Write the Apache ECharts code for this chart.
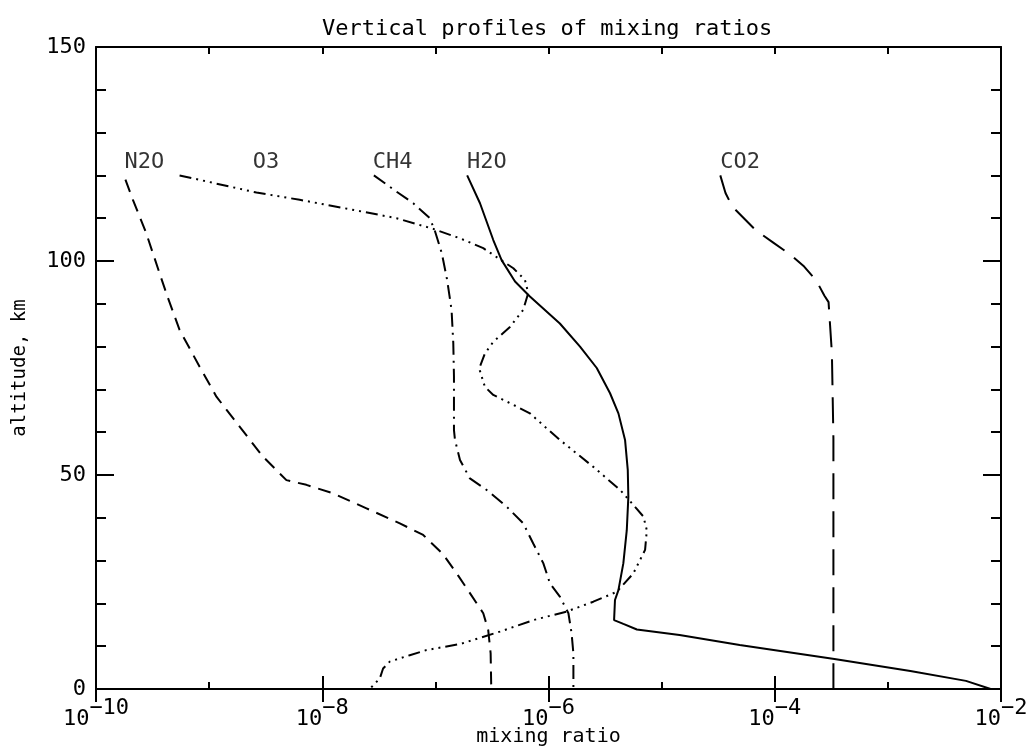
<!DOCTYPE html>
<html><head><meta charset="utf-8">
<script src="https://cdn.jsdelivr.net/npm/echarts@6/dist/echarts.min.js"></script>
<style>html,body{margin:0;padding:0;background:#fff}#c{width:1033px;height:754px}</style>
</head><body><div id="c"></div>
<script>
// ---- text ----
const titleText = 'Vertical profiles of mixing ratios';
const xName = 'mixing ratio';
const yName = 'altitude, km';

// ---- ticks ----
const xTickDecades = [1e-10, 1e-9, 1e-8, 1e-7, 1e-6, 1e-5, 1e-4, 1e-3, 1e-2];
const xLabelDecades = [1e-10, 1e-8, 1e-6, 1e-4, 1e-2];

// ---- series labels (name, mixing ratio at left edge, altitude) ----
const labelNames = ['N2O', 'O3', 'CH4', 'H2O', 'CO2'];
const labelMix = [1.79e-10, 2.43e-9, 2.80e-8, 1.90e-7, 3.3e-5];
const labelAlt = 123;

// ---- profiles ----
const n2oAlt = [119, 114.3, 106.5, 97.1, 91.4, 83.9, 75.3, 68.3, 61.3, 54.3, 48.8, 47.7, 45.7, 42.2, 38.7, 36.0, 31.5, 26.6, 22.4, 17.7, 13.8, 8.3, 0];
const n2oMix = [1.82e-10, 2.12e-10, 2.78e-10, 3.65e-10, 4.32e-10, 5.48e-10, 8.24e-10, 1.16e-9, 1.86e-9, 2.99e-9, 4.82e-9, 7.24e-9, 1.25e-8, 2.46e-8, 4.85e-8, 7.80e-8, 1.17e-7, 1.58e-7, 2.02e-7, 2.65e-7, 2.93e-7, 3.08e-7, 3.12e-7];

const o3Alt = [120, 116.0, 114.3, 112.1, 110.0, 107.5, 105.3, 103.0, 100.4, 98.3, 95.6, 92.5, 88.6, 84.6, 81.1, 78.4, 74.9, 70.6, 68.7, 66.4, 64.4, 60.9, 58.2, 51.9, 46.5, 40.3, 37.1, 32.5, 27.0, 22.7, 20.4, 18.1, 16.1, 13.4, 10.5, 9.1, 7.9, 6.4, 4.8, 2.5, 0];
const o3Mix = [5.48e-10, 2.62e-9, 6.32e-9, 1.75e-8, 4.54e-8, 9.57e-8, 1.65e-7, 2.65e-7, 3.72e-7, 4.89e-7, 6.19e-7, 6.62e-7, 5.98e-7, 4.56e-7, 3.25e-7, 2.74e-7, 2.44e-7, 2.74e-7, 3.25e-7, 4.89e-7, 6.85e-7, 9.64e-7, 1.26e-6, 2.49e-6, 4.30e-6, 6.90e-6, 7.40e-6, 7.14e-6, 5.62e-6, 4.01e-6, 2.49e-6, 1.45e-6, 7.35e-7, 3.72e-7, 1.65e-7, 8.36e-8, 5.94e-8, 3.95e-8, 3.45e-8, 3.23e-8, 2.63e-8];

const ch4Alt = [120, 116.2, 113.5, 110.0, 107.0, 101.8, 95.6, 88.6, 80.8, 73.0, 60.5, 58.2, 53.5, 49.2, 46.5, 42.6, 38.7, 34.0, 29.4, 24.7, 21.6, 17.7, 13.0, 8.3, 0];
const ch4Mix = [2.86e-8, 4.54e-8, 6.37e-8, 8.93e-8, 9.91e-8, 1.14e-7, 1.27e-7, 1.39e-7, 1.44e-7, 1.46e-7, 1.46e-7, 1.49e-7, 1.65e-7, 2.02e-7, 2.84e-7, 4.27e-7, 5.98e-7, 7.33e-7, 8.99e-7, 1.03e-6, 1.26e-6, 1.50e-6, 1.60e-6, 1.66e-6, 1.66e-6];

const h2oAlt = [120, 113.5, 104.9, 100.2, 95.2, 91.7, 85.4, 80.0, 75.0, 69.1, 64.4, 58.2, 51.2, 44.9, 37.1, 29.4, 23.1, 20.8, 16.1, 15.2, 13.9, 12.6, 10.3, 7.0, 4.2, 1.9, 0];
const h2oMix = [1.91e-7, 2.48e-7, 3.25e-7, 3.85e-7, 5.06e-7, 6.85e-7, 1.26e-6, 1.90e-6, 2.67e-6, 3.50e-6, 4.15e-6, 4.75e-6, 5.02e-6, 5.08e-6, 4.92e-6, 4.59e-6, 4.15e-6, 3.87e-6, 3.80e-6, 4.59e-6, 6.04e-6, 1.44e-5, 4.90e-5, 3.37e-4, 1.58e-3, 4.90e-3, 8.1e-3];

const co2Alt = [120, 115.9, 112.7, 107.1, 104.3, 101.5, 98.7, 95.5, 91.9, 90.4, 78.5, 58.6, 0];
const co2Mix = [3.30e-5, 3.67e-5, 4.22e-5, 6.85e-5, 9.70e-5, 1.37e-4, 1.82e-4, 2.32e-4, 2.75e-4, 2.99e-4, 3.20e-4, 3.30e-4, 3.30e-4];

// ---- build ----
const FONT = 'DejaVu Sans Mono';
const BLACK = '#000';
const pairs = (mx, alt) => mx.map((v, i) => [v, alt[i]]);
const supLabel = v => {
  const e = Math.round(Math.log10(v));
  return '{b|10}{s|' + (e < 0 ? '\u2212' : '') + Math.abs(e) + '}';
};
const xBase = {
  type: 'log', logBase: 10, min: 1e-10, max: 1e-2, gridIndex: 0,
  splitLine: { show: false }, minorSplitLine: { show: false }
};
const lineS = { color: BLACK, width: 2 };

const option = {
  animation: false,
  backgroundColor: '#fff',
  title: {
    text: titleText, left: 317, top: 13,
    textStyle: { fontFamily: FONT, fontWeight: 'normal', fontSize: 22, color: BLACK }
  },
  grid: { left: 96, right: 32, top: 47, bottom: 65, containLabel: false, outerBoundsMode: 'none' },
  xAxis: [
    Object.assign({}, xBase, {
      position: 'bottom',
      axisLine: { show: true, onZero: false, lineStyle: lineS },
      axisTick: { show: true, inside: true, length: 7, customValues: xTickDecades, lineStyle: lineS },
      axisLabel: {
        show: true, customValues: xLabelDecades, formatter: supLabel, margin: 8,
        rich: {
          b: { fontFamily: FONT, fontSize: 22, color: BLACK, lineHeight: 33, verticalAlign: 'bottom' },
          s: { fontFamily: FONT, fontSize: 22, color: BLACK, lineHeight: 33, verticalAlign: 'top' }
        }
      },
      name: xName, nameLocation: 'middle', nameGap: 38, nameMoveOverlap: false,
      nameTextStyle: { fontFamily: FONT, fontSize: 20, color: BLACK }
    }),
    Object.assign({}, xBase, {
      position: 'bottom',
      axisLine: { show: false },
      axisTick: { show: true, inside: true, length: 13, customValues: xLabelDecades, lineStyle: lineS },
      axisLabel: { show: false }
    }),
    Object.assign({}, xBase, {
      position: 'top',
      axisLine: { show: true, onZero: false, lineStyle: lineS },
      axisTick: { show: true, inside: true, length: 7, customValues: xTickDecades, lineStyle: lineS },
      axisLabel: { show: false }
    }),
    Object.assign({}, xBase, {
      position: 'top',
      axisLine: { show: false },
      axisTick: { show: true, inside: true, length: 13, customValues: xLabelDecades, lineStyle: lineS },
      axisLabel: { show: false }
    })
  ],
  yAxis: [
    {
      type: 'value', min: 0, max: 150, interval: 50, position: 'left',
      axisLine: { show: true, onZero: false, lineStyle: lineS },
      axisTick: { show: true, inside: true, length: 18, lineStyle: lineS },
      minorTick: { show: true, splitNumber: 5, length: 10, lineStyle: lineS },
      splitLine: { show: false },
      axisLabel: { fontFamily: FONT, fontSize: 22, color: BLACK, margin: 10 },
      name: yName, nameLocation: 'middle', nameGap: 66, nameRotate: 90, nameMoveOverlap: false,
      nameTextStyle: { fontFamily: FONT, fontSize: 19, color: BLACK }
    },
    {
      type: 'value', min: 0, max: 150, interval: 50, position: 'right',
      axisLine: { show: true, onZero: false, lineStyle: lineS },
      axisTick: { show: true, inside: true, length: 18, lineStyle: lineS },
      minorTick: { show: true, splitNumber: 5, length: 10, lineStyle: lineS },
      splitLine: { show: false },
      axisLabel: { show: false }
    }
  ],
  series: [
    { name: 'N2O', type: 'line', data: pairs(n2oMix, n2oAlt), showSymbol: false, symbol: 'none',
      lineStyle: { color: BLACK, width: 2, type: [13, 8] } },
    { name: 'O3', type: 'line', data: pairs(o3Mix, o3Alt), showSymbol: false, symbol: 'none',
      lineStyle: { color: BLACK, width: 2, type: [12, 5, 2, 5, 2, 5, 2, 5] } },
    { name: 'CH4', type: 'line', data: pairs(ch4Mix, ch4Alt), showSymbol: false, symbol: 'none',
      lineStyle: { color: BLACK, width: 2, type: [14, 6, 2, 6] } },
    { name: 'H2O', type: 'line', data: pairs(h2oMix, h2oAlt), showSymbol: false, symbol: 'none',
      lineStyle: { color: BLACK, width: 2, type: 'solid' } },
    { name: 'CO2', type: 'line', data: pairs(co2Mix, co2Alt), showSymbol: false, symbol: 'none',
      lineStyle: { color: BLACK, width: 2, type: [26, 12] } },
    { name: 'labels', type: 'scatter', symbolSize: 0, silent: true,
      data: labelNames.map((n, i) => ({ name: n, value: [labelMix[i], labelAlt] })),
      label: { show: true, position: 'right', distance: 0, formatter: '{b}',
               fontFamily: FONT, fontSize: 22, color: BLACK } }
  ]
};
const chart = echarts.init(document.getElementById('c'));
chart.setOption(option);
</script>
</body></html>
